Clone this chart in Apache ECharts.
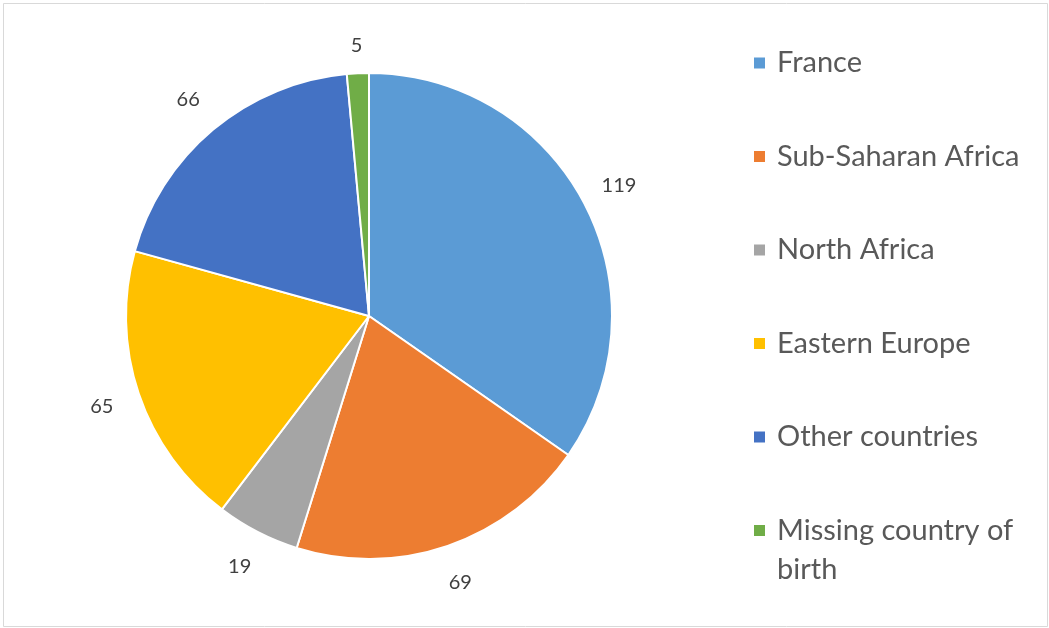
<!DOCTYPE html>
<html>
<head>
<meta charset="utf-8">
<script src="https://cdn.jsdelivr.net/npm/echarts@6/dist/echarts.min.js"></script>
<style>
html,body{margin:0;padding:0;background:#fff;}
#chart{width:1049px;height:628px;}
</style>
</head>
<body>
<div id="chart"></div>
<script>
const categories = ['France', 'Sub-Saharan Africa', 'North Africa', 'Eastern Europe', 'Other countries', 'Missing country of birth'];
const values = [119, 69, 19, 65, 66, 5];
const colors = ['#5B9BD5', '#ED7D31', '#A5A5A5', '#FFC000', '#4472C4', '#70AD47'];

const chart = echarts.init(document.getElementById('chart'), null, {renderer: 'canvas'});
const FONT = 'Lato, "Noto Sans", sans-serif';

const pieData = categories.map((c, i) => ({name: c, value: values[i], itemStyle: {color: colors[i]}}));
// the tiny last slice's label sits a little closer to the pie
pieData[5].labelLine = {show: false, length: 28, length2: 0};

const option = {
  animation: false,
  backgroundColor: '#ffffff',
  graphic: [{
    type: 'rect', silent: true, z: -1,
    shape: {x: 3.5, y: 3.5, width: 1044, height: 623},
    style: {fill: 'none', stroke: '#d9d9d9', lineWidth: 1}
  }],
  legend: [{
    orient: 'vertical',
    left: 752, top: 43.5,
    padding: 0,
    itemWidth: 13, itemHeight: 13,
    itemGap: 54.5,
    icon: 'rect',
    selectedMode: false,
    data: categories.slice(0, 5),
    textStyle: {fontFamily: FONT, fontSize: 29, color: '#595959', lineHeight: 39, padding: [0, 0, 0, 6]}
  }, {
    orient: 'vertical',
    left: 752, top: 472,
    padding: 0,
    itemWidth: 13, itemHeight: 13,
    icon: 'rect',
    selectedMode: false,
    data: categories.slice(5),
    formatter: function () { return '{t|Missing country of}\n{t|birth}'; },
    textStyle: {
      fontFamily: FONT, fontSize: 29, color: '#595959', lineHeight: 39, padding: [39, 0, 0, 6],
      rich: {t: {fontFamily: FONT, fontSize: 29, color: '#595959', lineHeight: 39}}
    }
  }],
  series: [{
    type: 'pie',
    center: [369, 316],
    radius: [0, 243],
    startAngle: 90,
    clockwise: true,
    avoidLabelOverlap: false,
    itemStyle: {borderColor: '#ffffff', borderWidth: 2},
    label: {
      show: true,
      position: 'outside',
      formatter: '{c}',
      fontFamily: FONT,
      fontSize: 20,
      color: '#404040',
      distanceToLabelLine: 0
    },
    labelLine: {show: false, length: 39, length2: 0},
    labelLayout: {align: 'center', verticalAlign: 'middle'},
    emphasis: {disabled: true},
    data: pieData
  }]
};
chart.setOption(option);
</script>
</body>
</html>
